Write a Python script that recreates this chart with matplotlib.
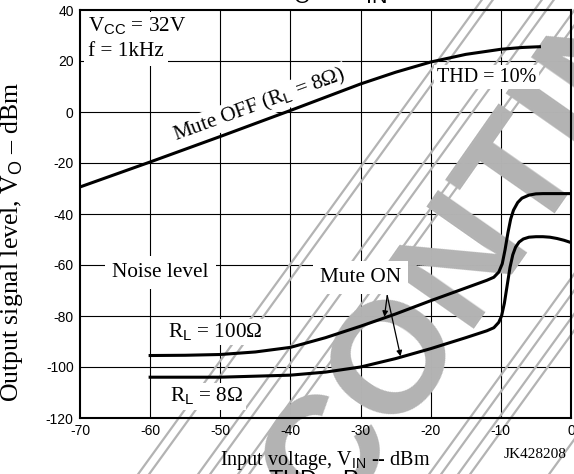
import matplotlib
matplotlib.use('Agg')
import matplotlib.pyplot as plt
from matplotlib.lines import Line2D

plt.rcParams['font.family'] = 'Liberation Serif'
plt.rcParams['mathtext.fontset'] = 'custom'
plt.rcParams['mathtext.rm'] = 'Liberation Sans'
plt.rcParams['mathtext.it'] = 'Liberation Sans'
plt.rcParams['axes.unicode_minus'] = False

# Mute OFF, RL = 8 ohm
off_x = [-70, -60, -50, -40, -30, -25, -20, -15, -10, -7, -4.5]
off_y = [-29.4, -19.6, -9.6, 0.6, 11.0, 15.6, 19.6, 22.6, 24.6, 25.3, 25.6]

# Mute ON, RL = 100 ohm
on100_x = [-60, -55, -50, -45, -40, -35, -30, -25, -20, -15, -12, -11, -10.3, -9.8,
           -9.4, -9.0, -8.6, -8.2, -7.6, -7.0, -6.0, -5.0, -4.0, 0]
on100_y = [-95.5, -95.4, -95.1, -94.1, -92.3, -88.5, -84.0, -79.2, -74.0, -69.0, -66.0,
           -64.8, -62.8, -59.5, -54.0, -47.5, -42.0, -38.5, -35.5, -33.8, -32.6, -32.1, -32.0, -32.0]

# Mute ON, RL = 8 ohm
on8_x = [-60, -50, -40, -35, -30, -25, -20, -15, -12, -11, -10.3, -9.9, -9.5, -9.1,
         -8.7, -8.3, -7.9, -7.4, -6.8, -6.0, -5.0, -4.0, -3.0, -2.0, -1.0, 0]
on8_y = [-104.0, -104.0, -103.2, -102.0, -100.0, -96.7, -92.8, -88.5, -85.8, -84.6, -82.5,
         -80.0, -75.0, -68.0, -61.0, -56.0, -53.0, -51.0, -49.8, -49.1, -48.9, -48.9,
         -49.1, -49.6, -50.3, -51.2]

x_ticks = [-70, -60, -50, -40, -30, -20, -10, 0]
y_ticks = [40, 20, 0, -20, -40, -60, -80, -100, -120]

W, H = 574, 474
fig = plt.figure(figsize=(W / 100, H / 100), dpi=100)
ax = fig.add_axes([80 / W, 1 - 418 / H, 491 / W, 408 / H])

# grid drawn by hand so the watermark can sit between grid and curves
for t in x_ticks[1:-1]:
    ax.axvline(t, color='black', lw=0.8, zorder=0.5)
for t in y_ticks[1:-1]:
    ax.axhline(t, color='black', lw=0.8, zorder=0.5)

# watermark (grey diagonal lines + big rotated letters)
wm = '#b3b3b3'
for b in [152, 163, 212, 224, 252, 263, 443, 455, 472, 484, 563]:
    x0, y0 = b - 60, 455 + 60 * 1.38
    x1, y1 = b + 500 / 1.38 + 40, 455 - 500 - 40 * 1.38
    ax.add_line(Line2D([x0 / W, x1 / W], [1 - y0 / H, 1 - y1 / H], transform=fig.transFigure,
                       color=wm, lw=1.6, zorder=1.4, clip_on=False))
ax.text(330 / W, 1 - 526 / H, 'CONTINUED', transform=fig.transFigure, family='Liberation Sans',
        weight='bold', fontsize=114, color=wm, rotation=55, rotation_mode='anchor',
        ha='left', va='baseline', zorder=1.5, clip_on=False)

ax.plot(off_x, off_y, color='black', lw=2.2, zorder=3)
ax.plot(on100_x, on100_y, color='black', lw=2.2, zorder=3)
ax.plot(on8_x, on8_y, color='black', lw=2.2, zorder=3)

ax.set_xlim(-70, 0)
ax.set_ylim(-120, 40)
ax.set_xticks(x_ticks)
ax.set_yticks(y_ticks)
ax.set_xticklabels([str(t) for t in x_ticks], family='Liberation Sans', fontsize=10)
ax.set_yticklabels([str(t) for t in y_ticks], family='Liberation Sans', fontsize=10)
ax.tick_params(length=0, pad=4.5)
for s in ax.spines.values():
    s.set_linewidth(1.5)
    s.set_zorder(4)

fs = 15.3
wbox = dict(facecolor='white', edgecolor='none', pad=2)
ax.text(-68.8, 31.4, 'V$_{\\mathrm{CC}}$ = 32V', fontsize=fs, va='baseline', ha='left',
        bbox=dict(facecolor='white', edgecolor='none', pad=3), zorder=2)
ax.text(-68.8, 21.8, 'f = 1kHz', fontsize=fs, va='baseline', ha='left',
        bbox=dict(facecolor='white', edgecolor='none', pad=3), zorder=2)
ax.text(-44.4, 2.8, 'Mute OFF (R$_{\\mathrm{L}}$ = 8Ω)', fontsize=fs, rotation=20,
        rotation_mode='anchor', ha='center', va='center',
        bbox=dict(facecolor='white', edgecolor='none', pad=1), zorder=2)
ax.text(-12, 13.7, 'THD = 10%', fontsize=14.5, ha='center', va='center', bbox=wbox, zorder=2)
ax.text(-58.5, -63, 'Noise level', fontsize=fs, ha='center', va='center',
        bbox=dict(facecolor='white', edgecolor='none', pad=5), zorder=2)
ax.text(-30, -65, 'Mute ON', fontsize=fs, ha='center', va='center',
        bbox=dict(facecolor='white', edgecolor='none', pad=5), zorder=2)
ax.text(-50.7, -86.3, 'R$_{\\mathrm{L}}$ = 100Ω', fontsize=fs, ha='center', va='center',
        bbox=wbox, zorder=2)
ax.text(-51.9, -111.5, 'R$_{\\mathrm{L}}$ = 8Ω', fontsize=fs, ha='center', va='center',
        bbox=wbox, zorder=2)

arrow = dict(arrowstyle='-|>', color='black', lw=0.9, mutation_scale=8, shrinkA=0, shrinkB=0)
ax.annotate('', xy=(-26.6, -80.3), xytext=(-26.2, -72), arrowprops=arrow, zorder=5)
ax.annotate('', xy=(-24.3, -95.8), xytext=(-26.2, -72), arrowprops=arrow, zorder=5)

ax.set_xlabel('Input voltage, V$_{\\mathrm{IN}}$ -- dBm', fontsize=14.5)
ax.set_ylabel('Output signal level, V$_{\\mathrm{O}}$ – dBm', fontsize=18.5)
ax.xaxis.set_label_coords(0.5, -0.075)
ax.yaxis.set_label_coords(-0.112, 0.43)

fig.text(535 / W, 1 - 455 / H, 'JK428208', fontsize=11, ha='center', va='center')
fig.text(330 / W, 1 - 6 / H, 'V$_{\\mathrm{O}}$ – V$_{\\mathrm{IN}}$', family='Liberation Sans',
         fontsize=22, ha='center', va='bottom')
fig.text(320 / W, 1 - 468 / H, 'THD – P$_{\\mathrm{O}}$', family='Liberation Sans',
         fontsize=17, ha='center', va='top')

fig.savefig('out.png', dpi=100)
